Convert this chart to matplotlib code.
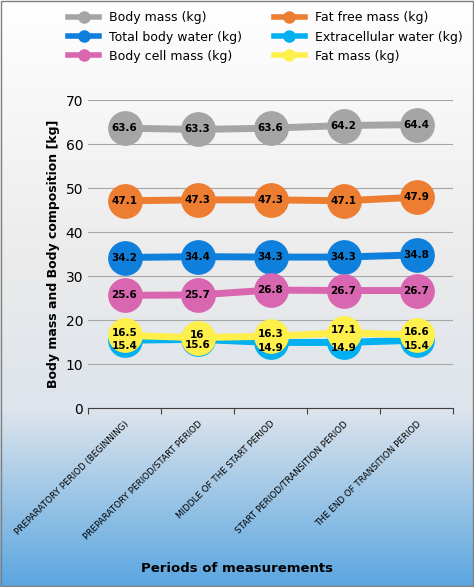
import numpy as np
import matplotlib
matplotlib.use("Agg")
import matplotlib.pyplot as plt
from matplotlib.lines import Line2D
from matplotlib.colors import LinearSegmentedColormap

categories = ["PREPARATORY PERIOD (BEGINNING)", "PREPARATORY PERIOD/START PERIOD",
              "MIDDLE OF THE START PERIOD", "START PERIOD/TRANSITION PERIOD",
              "THE END OF TRANSITION PERIOD"]
body_mass = [63.6, 63.3, 63.6, 64.2, 64.4]
fat_free = [47.1, 47.3, 47.3, 47.1, 47.9]
tbw = [34.2, 34.4, 34.3, 34.3, 34.8]
ecw = [15.4, 15.6, 14.9, 14.9, 15.4]
bcm = [25.6, 25.7, 26.8, 26.7, 26.7]
fat = [16.5, 16.0, 16.3, 17.1, 16.6]
yticks = [0, 10, 20, 30, 40, 50, 60, 70]

series = [("Body mass (kg)", body_mass, "#a5a5a5", 0),
          ("Fat free mass (kg)", fat_free, "#ed7d31", 0),
          ("Total body water (kg)", tbw, "#0f7fdc", 0),
          ("Extracellular water (kg)", ecw, "#00b0f0", -1.2),
          ("Body cell mass (kg)", bcm, "#d966b0", 0),
          ("Fat mass (kg)", fat, "#ffef4a", 0.6)]

fig = plt.figure(figsize=(4.74, 5.87), dpi=100)
bg = fig.add_axes([0, 0, 1, 1], zorder=-10)
grad = np.linspace(0, 1, 256)[:, None]
cmap = LinearSegmentedColormap.from_list(
    "g", [(0, "#ffffff"), (0.45, "#ebebeb"), (0.7, "#dde4ec"), (1, "#5aa6e0")])
bg.imshow(grad, aspect="auto", cmap=cmap, extent=[0, 1, 0, 1], origin="upper")
bg.set_axis_off()
fig.patches.append(plt.Rectangle((0.002, 0.002), 0.996, 0.996, transform=fig.transFigure,
                                 fill=False, edgecolor="#7f7f7f", lw=1))

ax = fig.add_axes([88/474, 1-408/587, (453-88)/474, 308/587])
ax.patch.set_alpha(0)
x = np.arange(len(categories))
order = [0, 1, 2, 4, 3, 5]
for i in order:
    name, vals, col, off = series[i]
    ax.plot(x, vals, color=col, lw=5, marker="o", ms=24, zorder=3+i)
    for xi, v in zip(x, vals):
        ax.text(xi, v + off, f"{v:g}", ha="center", va="center", fontsize=7.5,
                fontweight="bold", color="black", zorder=20)

ax.set_ylim(0, 70)
ax.set_xlim(-0.5, 4.5)
ax.set_yticks(yticks)
ax.yaxis.grid(True, color="#a6a6a6", lw=0.8)
ax.set_axisbelow(True)
for s in ["top", "right", "left"]:
    ax.spines[s].set_visible(False)
ax.spines["bottom"].set_color("#404040")
ax.tick_params(axis="y", length=0, labelsize=10)
ax.set_xticks(np.arange(-0.5, 5, 1), minor=False)
ax.set_xticklabels([])
ax.set_xticks(x, minor=True)
ax.set_xticklabels(categories, minor=True, rotation=45, ha="right", rotation_mode="anchor",
                   fontsize=6.3)
ax.tick_params(axis="x", which="minor", length=0, pad=8)
ax.tick_params(axis="x", which="major", length=4, color="#404040")
ax.set_ylabel("Body mass and Body composition [kg]", fontsize=9, fontweight="bold")
fig.text(0.5, 0.025, "Periods of measurements", ha="center", fontsize=9.5, fontweight="bold")

leg_order = [0, 2, 4, 1, 3, 5]
handles = [Line2D([], [], color=series[i][2], lw=4, marker="o", ms=8) for i in leg_order]
fig.legend(handles, [series[i][0] for i in leg_order], loc="upper left",
           bbox_to_anchor=(0.12, 1.0), ncol=2, frameon=False, fontsize=9,
           columnspacing=2.5, handlelength=2.5, labelspacing=0.5)
fig.savefig("out.png", dpi=100)
